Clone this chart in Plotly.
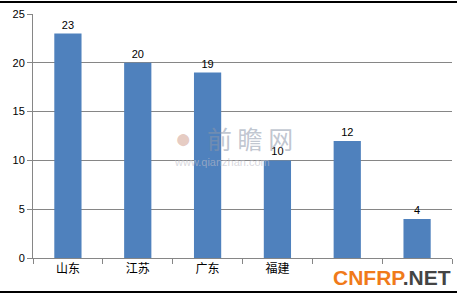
import plotly.graph_objects as go

categories = ["山东", "江苏", "广东", "福建", "", ""]
values = [23, 20, 19, 10, 12, 4]
y_ticks = [0, 5, 10, 15, 20, 25]

x_idx = list(range(len(categories)))

L, R, T, B = 33, 5, 14, 41
W, H = 457, 299
PW, PH = W - L - R, H - T - B


def px(x):
    return (x - L) / PW


def py(y):
    return (H - B - y) / PH


fig = go.Figure()
fig.add_trace(go.Bar(
    x=x_idx, y=values, text=[str(v) for v in values],
    textposition="outside", cliponaxis=False,
    textfont=dict(size=11, color="#000000"),
    marker=dict(color="#4F81BD", line=dict(width=0)),
    width=0.39,
))

fig.update_layout(
    width=W, height=H,
    margin=dict(l=L, r=R, t=T, b=B),
    paper_bgcolor="white", plot_bgcolor="white",
    font=dict(family="Liberation Sans, Noto Sans CJK SC, sans-serif", size=11, color="#000"),
    showlegend=False,
)
fig.update_xaxes(
    range=[-0.5, len(categories) - 0.5],
    tickmode="array", tickvals=x_idx, ticktext=categories,
    ticks="", showgrid=False, showline=True, linecolor="#868686", linewidth=1,
    tickfont=dict(size=12, family="Noto Sans CJK SC, sans-serif"),
    minor=dict(tickmode="linear", tick0=-0.5, dtick=1, ticks="outside",
               ticklen=5, tickcolor="#868686", showgrid=False),
    zeroline=False,
)
fig.update_yaxes(
    range=[0, 25], tickmode="array", tickvals=y_ticks,
    showgrid=True, gridcolor="#868686", gridwidth=1,
    showline=True, linecolor="#868686", linewidth=1,
    ticks="outside", ticklen=5, tickcolor="#868686",
    zeroline=False, tickfont=dict(size=11),
)

# frame lines (top and bottom)
for yy in (2, 292):
    fig.add_shape(type="line", xref="paper", yref="paper",
                  x0=px(0), x1=px(W), y0=py(yy), y1=py(yy),
                  line=dict(color="#000000", width=2))

# central watermark
fig.add_annotation(xref="paper", yref="paper", x=px(205), y=py(138), xanchor="left",
                   text="前 瞻 网", showarrow=False,
                   font=dict(size=25, color="rgba(140,150,170,0.55)", family="Noto Sans CJK SC"))
fig.add_annotation(xref="paper", yref="paper", x=px(183), y=py(138),
                   text="●", showarrow=False,
                   font=dict(size=28, color="rgba(200,140,120,0.45)"))
fig.add_annotation(xref="paper", yref="paper", x=px(172), y=py(162), xanchor="left",
                   text="www.qianzhan.com", showarrow=False,
                   font=dict(size=11, color="rgba(190,190,200,0.6)"))

# bottom-right watermark
fig.add_annotation(xref="paper", yref="paper", x=px(453), y=py(277), xanchor="right", yanchor="middle",
                   text="<b><span style='color:#F07A1A'>CNFRP</span>.NET</b>", showarrow=False,
                   font=dict(size=21, family="Liberation Sans, Arial", color="#444444"))

fig.write_html("out.html")
